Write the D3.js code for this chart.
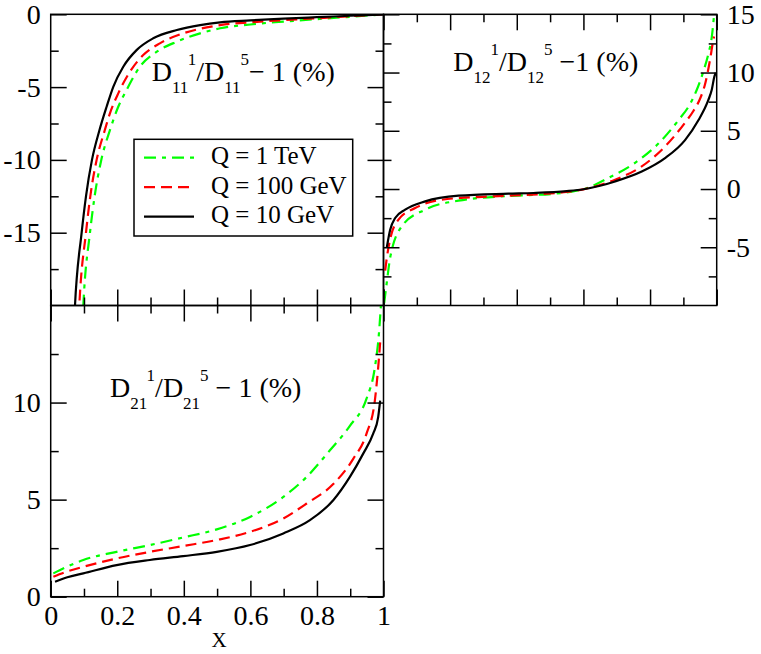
<!DOCTYPE html>
<html>
<head>
<meta charset="utf-8">
<script src="https://cdn.jsdelivr.net/npm/d3@7"></script>
<style>
body { margin: 0; background: #fff; }
</style>
</head>
<body>
<svg id="chart" width="761" height="654"></svg>
<script>
// x ticks (shared by every panel)
var xMajor = [0, 0.2, 0.4, 0.6, 0.8, 1];
var xMinor = [0.1, 0.3, 0.5, 0.7, 0.9];

// D11^1/D11^5 - 1 (%)   [x, value]
var d11_1TeV = [[0.094,-22],[0.098,-20],[0.118,-15],[0.132,-12.5],[0.152,-10],[0.178,-7.96],[0.203,-6.35],[0.228,-5.2],[0.268,-3.6],[0.319,-2.57],[0.379,-1.88],[0.449,-1.31],[0.509,-0.96],[0.6,-0.7],[0.7,-0.5],[0.8,-0.33],[0.9,-0.17],[1.0,0]];
var d11_100GeV = [[0.082,-22],[0.086,-20],[0.106,-15],[0.119,-12.5],[0.138,-10],[0.162,-8],[0.178,-6.8],[0.203,-5.43],[0.238,-3.95],[0.278,-2.8],[0.328,-2.0],[0.398,-1.31],[0.469,-0.9],[0.509,-0.74],[0.6,-0.55],[0.7,-0.4],[0.8,-0.27],[0.9,-0.13],[1.0,0]];
var d11_10GeV = [[0.069,-22],[0.073,-20],[0.093,-15],[0.106,-12.5],[0.124,-10],[0.146,-8],[0.168,-6.35],[0.188,-4.98],[0.218,-3.6],[0.258,-2.46],[0.308,-1.65],[0.379,-1.08],[0.449,-0.74],[0.509,-0.55],[0.6,-0.42],[0.7,-0.3],[0.8,-0.2],[0.9,-0.1],[1.0,0]];
var d11Major = [0, -5, -10, -15];
var d11Minor = [-2.5, -7.5, -12.5, -17.5];

// D12^1/D12^5 - 1 (%)
var d12_1TeV = [[0.002,-9.8],[0.01,-8.0],[0.02,-5.9],[0.055,-3.2],[0.125,-1.77],[0.225,-1.0],[0.375,-0.6],[0.515,-0.4],[0.56,-0.25],[0.6,-0.02],[0.675,0.95],[0.755,2.25],[0.825,3.9],[0.885,5.9],[0.92,7.3],[0.94,8.5],[0.96,10.1],[0.975,11.6],[0.985,13.0],[0.993,15.2]];
var d12_100GeV = [[0.005,-7.0],[0.01,-5.9],[0.02,-4.3],[0.045,-2.63],[0.095,-1.63],[0.175,-0.92],[0.325,-0.63],[0.475,-0.43],[0.55,-0.25],[0.6,-0.03],[0.65,0.35],[0.695,0.8],[0.775,1.94],[0.845,3.65],[0.905,5.7],[0.93,6.7],[0.95,7.75],[0.965,9.0],[0.98,11.1],[0.988,12.5],[0.992,13.1]];
var d12_10GeV = [[0.01,-5.0],[0.02,-3.5],[0.035,-2.49],[0.065,-1.77],[0.125,-1.06],[0.225,-0.57],[0.375,-0.4],[0.45,-0.34],[0.55,-0.18],[0.6,-0.02],[0.65,0.28],[0.695,0.65],[0.775,1.5],[0.845,2.65],[0.905,4.2],[0.945,5.9],[0.975,7.65],[0.985,8.5],[0.993,9.65],[0.997,10.0]];
var d12Major = [15, 10, 5, 0, -5];
var d12Minor = [12.5, 7.5, 2.5, -2.5, -7.5];

// D21^1/D21^5 - 1 (%)
var d21_1TeV = [[0.008,1.2],[0.05,1.55],[0.098,1.89],[0.198,2.31],[0.298,2.66],[0.398,3.05],[0.499,3.47],[0.599,4.11],[0.699,5.14],[0.769,6.17],[0.839,7.54],[0.899,8.8],[0.949,10.2],[0.974,11.8],[0.986,13.5],[0.993,15.2]];
var d21_100GeV = [[0.008,1.03],[0.05,1.3],[0.098,1.54],[0.198,1.97],[0.298,2.31],[0.398,2.61],[0.499,2.92],[0.599,3.34],[0.699,4.03],[0.769,4.8],[0.849,5.8],[0.909,7.1],[0.949,8.4],[0.974,10.1],[0.984,11.8],[0.99,13.1]];
var d21_10GeV = [[0.013,0.77],[0.05,1.0],[0.098,1.2],[0.198,1.63],[0.298,1.89],[0.398,2.09],[0.499,2.31],[0.599,2.66],[0.699,3.26],[0.779,3.94],[0.849,4.97],[0.899,6.17],[0.939,7.37],[0.969,8.4],[0.984,9.25],[0.99,10.1]];
var d21Major = [0, 5, 10];
var d21Minor = [2.5, 7.5, 12.5];

var legendLabels = ["Q = 1 TeV", "Q = 100 GeV", "Q = 10 GeV"];
var styles = [
    { color: "#00ff00", dash: "12,6,4,6" },
    { color: "#ff0000", dash: "11,6" },
    { color: "#000000", dash: null }
];

var FONT = "Liberation Serif, DejaVu Serif, Noto Serif, Times New Roman, serif";

var svg = d3.select("#chart").attr("font-family", FONT);
var L = 50.7, M = 383.5, R = 716.7, T = 14.3, MY = 305.5, B = 596.7;
var MAJ = 16, MIN = 8;

var xL = d3.scaleLinear().domain([0, 1]).range([L, M]);
var xR = d3.scaleLinear().domain([0, 1]).range([M, R]);
var y11 = d3.scaleLinear().domain([-20, 0]).range([MY, T]);
var y12 = d3.scaleLinear().domain([-10, 15]).range([MY, T]);
var y21 = d3.scaleLinear().domain([0, 15]).range([B, MY]);

var fmt = function (d) { return String(d); };

function styleAxis(g) {
    g.select(".domain").remove();
    g.selectAll("line").attr("stroke", "#000").attr("stroke-width", 1.5);
    g.attr("font-family", FONT).attr("font-size", 28);
    g.selectAll("text").attr("font-family", FONT).attr("fill", "#000");
}

function addAxis(axis, tx, ty) {
    svg.append("g").attr("transform", "translate(" + tx + "," + ty + ")").call(axis).call(styleAxis);
}

function panel(id, xs, ys, series, yMaj, yMin, opt) {
    var x0 = xs.range()[0], x1 = xs.range()[1];
    var y0 = ys.range()[1], y1 = ys.range()[0];

    svg.append("clipPath").attr("id", id)
        .append("rect").attr("x", x0).attr("y", y0).attr("width", x1 - x0).attr("height", y1 - y0);

    var line = d3.line()
        .x(function (d) { return xs(d[0]); })
        .y(function (d) { return ys(d[1]); })
        .curve(d3.curveMonotoneX);

    svg.append("g").attr("clip-path", "url(#" + id + ")")
        .selectAll("path").data(series).enter().append("path")
        .attr("d", line)
        .attr("fill", "none")
        .attr("stroke", function (d, i) { return styles[i].color; })
        .attr("stroke-width", 2.2)
        .attr("stroke-dasharray", function (d, i) { return styles[i].dash; });

    // left side
    addAxis(d3.axisLeft(ys).tickValues(yMaj).tickSizeInner(-MAJ).tickSizeOuter(0).tickPadding(10)
        .tickFormat(opt.labelLeft ? fmt : ""), x0, 0);
    addAxis(d3.axisLeft(ys).tickValues(yMin).tickSize(-MIN).tickFormat(""), x0, 0);
    // right side
    addAxis(d3.axisRight(ys).tickValues(yMaj).tickSizeInner(-MAJ).tickSizeOuter(0).tickPadding(10)
        .tickFormat(opt.labelRight ? fmt : ""), x1, 0);
    addAxis(d3.axisRight(ys).tickValues(yMin).tickSize(-MIN).tickFormat(""), x1, 0);
    // bottom
    addAxis(d3.axisBottom(xs).tickValues(xMajor).tickSizeInner(-MAJ).tickSizeOuter(0).tickPadding(8.5)
        .tickFormat(opt.labelBottom ? fmt : ""), 0, y1);
    addAxis(d3.axisBottom(xs).tickValues(xMinor).tickSize(-MIN).tickFormat(""), 0, y1);
    // top
    if (opt.topTicks) {
        addAxis(d3.axisTop(xs).tickValues(xMajor).tickSize(-MAJ).tickFormat(""), 0, y0);
        addAxis(d3.axisTop(xs).tickValues(xMinor).tickSize(-MIN).tickFormat(""), 0, y0);
    }

    svg.append("rect").attr("x", x0).attr("y", y0).attr("width", x1 - x0).attr("height", y1 - y0)
        .attr("fill", "none").attr("stroke", "#000").attr("stroke-width", 1.5);
}

panel("c11", xL, y11, [d11_1TeV, d11_100GeV, d11_10GeV], d11Major, d11Minor,
    { labelLeft: true, labelRight: false, labelBottom: false, topTicks: false });
panel("c12", xR, y12, [d12_1TeV, d12_100GeV, d12_10GeV], d12Major, d12Minor,
    { labelLeft: false, labelRight: true, labelBottom: false, topTicks: true });
panel("c21", xL, y21, [d21_1TeV, d21_100GeV, d21_10GeV], d21Major, d21Minor,
    { labelLeft: true, labelRight: false, labelBottom: true, topTicks: true });

// panel titles
function title(x, y, idx, gap) {
    var t = svg.append("text").attr("x", x).attr("y", y).attr("font-size", 28)
        .attr("font-family", FONT);
    t.append("tspan").text("D");
    t.append("tspan").attr("font-size", 17).attr("dy", 12).text(idx);
    t.append("tspan").attr("font-size", 17).attr("dy", -28).text("1");
    t.append("tspan").attr("dy", 16).text("/D");
    t.append("tspan").attr("font-size", 17).attr("dy", 12).text(idx);
    t.append("tspan").attr("font-size", 17).attr("dy", -28).text("5");
    t.append("tspan").attr("dy", 16).text(gap);
}
title(151.7, 81, "11", "\u2212 1 (%)");
title(453.3, 71, "12", " \u22121 (%)");
title(110, 396.7, "21", " \u2212 1 (%)");

// x label
svg.append("text").attr("x", 219).attr("y", 647).attr("text-anchor", "middle")
    .attr("font-size", 21).attr("font-family", FONT).text("X");

// legend
var lg = svg.append("g");
lg.append("rect").attr("x", 134).attr("y", 139.3).attr("width", 218.7).attr("height", 96.7)
    .attr("fill", "#fff").attr("stroke", "#000").attr("stroke-width", 1.5);
var rows = lg.selectAll("g.row").data(legendLabels).enter().append("g")
    .attr("transform", function (d, i) { return "translate(0," + (157.7 + i * 29.5) + ")"; });
rows.append("line").attr("x1", 144).attr("x2", 194).attr("y1", 0).attr("y2", 0)
    .attr("stroke", function (d, i) { return styles[i].color; })
    .attr("stroke-width", 2.2)
    .attr("stroke-dasharray", function (d, i) { return styles[i].dash; });
rows.append("text").attr("x", 211).attr("y", 6.6).attr("font-size", 25)
    .attr("font-family", FONT).text(function (d) { return d; });
</script>
</body>
</html>
